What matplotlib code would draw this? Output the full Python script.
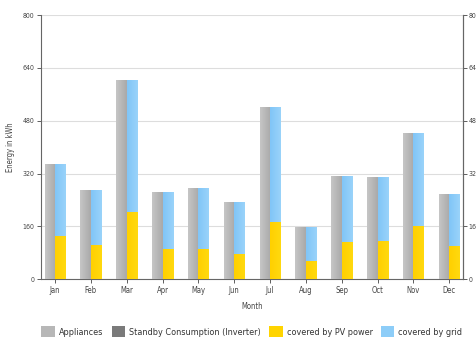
import matplotlib
matplotlib.use("Agg")
import matplotlib.pyplot as plt
import numpy as np
from matplotlib.patches import Patch
from matplotlib.colors import LinearSegmentedColormap

months = ["Jan", "Feb", "Mar", "Apr", "May", "Jun", "Jul", "Aug", "Sep", "Oct", "Nov", "Dec"]
appliances = [350, 270, 604, 263, 275, 233, 523, 157, 312, 310, 444, 257]
standby = [0, 0, 0, 0, 0, 0, 0, 0, 0, 0, 0, 0]
pv_power = [132, 104, 205, 91, 92, 78, 174, 56, 114, 116, 161, 101]
grid = [218, 166, 399, 172, 183, 155, 349, 101, 198, 194, 283, 156]
yticks = [0, 160, 320, 480, 640, 800]

plt.rcParams['font.family'] = ['DejaVu Sans']
plt.rcParams['font.stretch'] = 'condensed'

fig = plt.figure(figsize=(4.77, 3.41), dpi=100)
ax = fig.add_axes([0.086, 0.181, 0.885, 0.775])

x = np.arange(len(months))
w = 0.29
c_app = "#b7b7b7"
c_stb = "#7a7a7a"
c_pv = "#ffd400"
c_grid = "#8dcdf8"


def shade(container, c_left, c_right):
    cmap = LinearSegmentedColormap.from_list("g", [c_left, c_right])
    grad = np.linspace(0, 1, 64).reshape(1, -1)
    for p in container.patches:
        bx, by = p.get_x(), p.get_y()
        bw, bh = p.get_width(), p.get_height()
        if bh <= 0:
            continue
        im = ax.imshow(grad, extent=[bx, bx + bw, by, by + bh], cmap=cmap,
                       aspect="auto", zorder=3.2, interpolation="bilinear")
        im.set_clip_path(p)


b_app = ax.bar(x - w / 2, appliances, w, color=c_app, zorder=3)
b_stb = ax.bar(x - w / 2, standby, w, bottom=appliances, color=c_stb, zorder=3.5)
b_pv = ax.bar(x + w / 2, pv_power, w, color=c_pv, zorder=3)
b_grid = ax.bar(x + w / 2, grid, w, bottom=pv_power, color=c_grid, zorder=3)
shade(b_app, "#c6c6c6", "#a9a9a9")
shade(b_pv, "#ffd000", "#ffd90f")
shade(b_grid, "#80c5f7", "#9ad3fa")

ax.set_xlim(-0.39, 11.39)
ax.set_ylim(0, 800)
ax.set_xticks(x)
ax.set_xticklabels(months, fontsize=5.5, color="#444444")
ax.set_yticks(yticks)
ax.set_yticklabels([str(v) for v in yticks], fontsize=5, color="#444444")
ax.yaxis.grid(True, color="#dddddd", linewidth=0.8, zorder=0)
ax.set_axisbelow(True)

ax.spines["top"].set_visible(False)
for s in ["left", "right", "bottom"]:
    ax.spines[s].set_color("#666666")
    ax.spines[s].set_linewidth(0.8)
ax.tick_params(axis="both", length=3, width=0.6, color="#444444", pad=2)

ax2 = ax.twinx()
ax2.set_ylim(0, 800)
ax2.set_yticks(yticks)
ax2.set_yticklabels([str(v) for v in yticks], fontsize=5, color="#444444")
ax2.tick_params(axis="y", length=3, width=0.6, color="#444444", pad=1)
for s in ["top", "left", "bottom"]:
    ax2.spines[s].set_visible(False)
ax2.spines["right"].set_color("#666666")
ax2.spines["right"].set_linewidth(0.8)

ax.set_xlabel("Month", fontsize=5.5, color="#444444", labelpad=5)
ax.set_ylabel("Energy in kWh", fontsize=5.5, color="#444444")
ax.yaxis.set_label_coords(-0.062, 0.5)

handles = [
    Patch(facecolor=c_app, label="Appliances"),
    Patch(facecolor=c_stb, label="Standby Consumption (Inverter)"),
    Patch(facecolor=c_pv, label="covered by PV power"),
    Patch(facecolor=c_grid, label="covered by grid"),
]
fig.legend(handles=handles, loc="center", bbox_to_anchor=(0.528, 0.027), ncol=4,
           frameon=False, fontsize=6.5, handlelength=1.5, handleheight=1.5,
           columnspacing=0.9, handletextpad=0.45, labelcolor="#333333")

fig.savefig("out.png", dpi=100)
